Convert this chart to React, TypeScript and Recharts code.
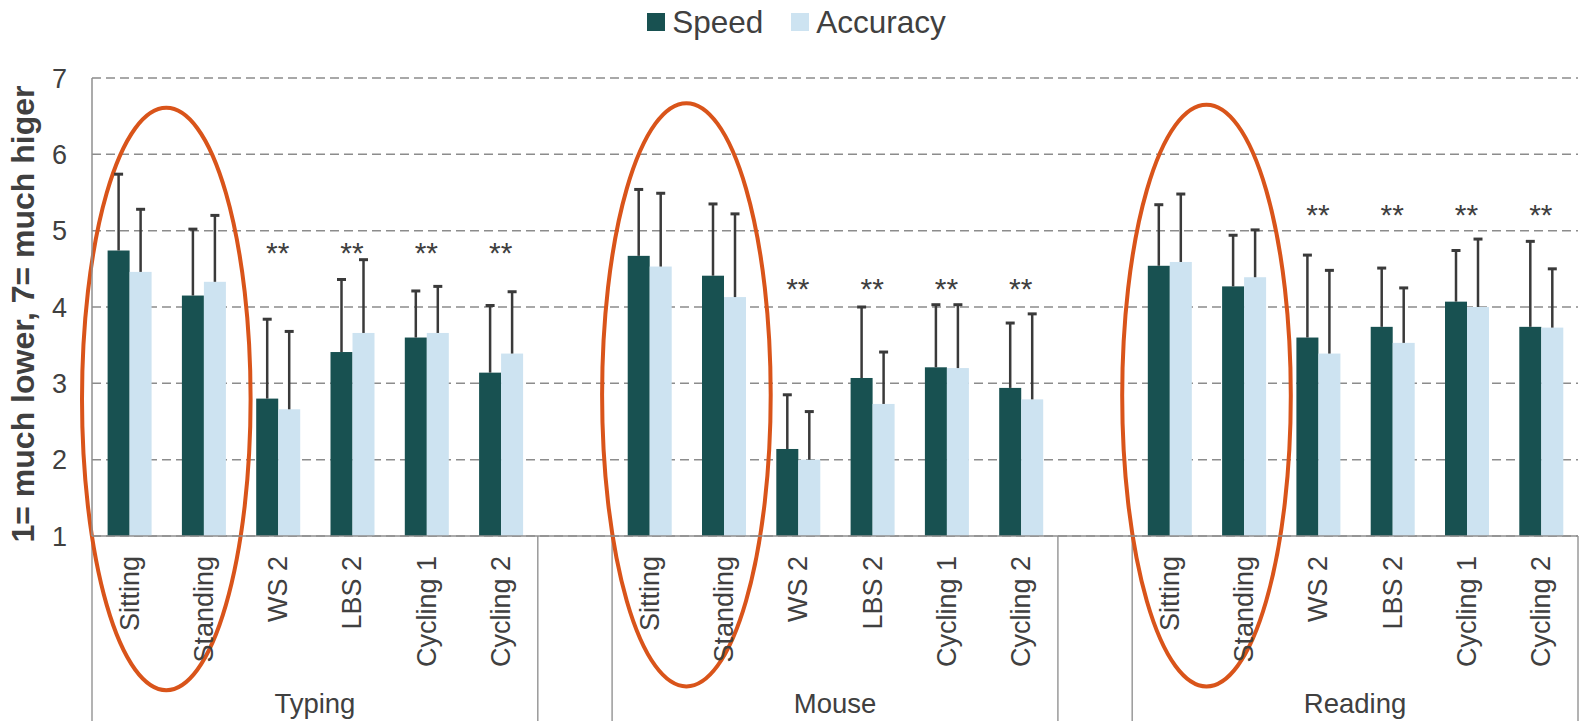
import React from 'react';
import {
  ComposedChart,
  Bar,
  Line,
  XAxis,
  YAxis,
  CartesianGrid,
  Legend,
  ReferenceArea,
  LabelList,
} from 'recharts';

// ---------- data ----------
const groups = ['Typing', 'Mouse', 'Reading'];
const conditions = ['Sitting', 'Standing', 'WS 2', 'LBS 2', 'Cycling 1', 'Cycling 2'];
const seriesNames = ['Speed', 'Accuracy'];

const typingSpeed = [4.74, 4.15, 2.8, 3.41, 3.6, 3.14];
const typingSpeedSD = [1.0, 0.87, 1.04, 0.95, 0.61, 0.88];
const typingAccuracy = [4.46, 4.33, 2.66, 3.66, 3.66, 3.39];
const typingAccuracySD = [0.82, 0.87, 1.02, 0.96, 0.61, 0.81];

const mouseSpeed = [4.67, 4.41, 2.14, 3.07, 3.21, 2.94];
const mouseSpeedSD = [0.87, 0.94, 0.71, 0.93, 0.82, 0.85];
const mouseAccuracy = [4.53, 4.13, 2.0, 2.73, 3.2, 2.79];
const mouseAccuracySD = [0.96, 1.09, 0.63, 0.68, 0.83, 1.12];

const readingSpeed = [4.54, 4.27, 3.6, 3.74, 4.07, 3.74];
const readingSpeedSD = [0.8, 0.67, 1.08, 0.77, 0.67, 1.12];
const readingAccuracy = [4.59, 4.39, 3.39, 3.53, 4.0, 3.73];
const readingAccuracySD = [0.89, 0.62, 1.09, 0.72, 0.89, 0.77];

const significance = ['', '', '**', '**', '**', '**'];
const starLevels = [4.79, 4.32, 5.28];

const ellipseTop = [6.61, 6.67, 6.65];
const ellipseBottom = [-1.02, -0.97, -0.97];

const yTicks = [1, 2, 3, 4, 5, 6, 7];
const Y_MIN = 1;
const Y_MAX = 7;

const speedByGroup = [typingSpeed, mouseSpeed, readingSpeed];
const speedSDByGroup = [typingSpeedSD, mouseSpeedSD, readingSpeedSD];
const accByGroup = [typingAccuracy, mouseAccuracy, readingAccuracy];
const accSDByGroup = [typingAccuracySD, mouseAccuracySD, readingAccuracySD];

type Row = {
  key: string;
  label: string;
  speed: number | null;
  speedSD: number | null;
  accuracy: number | null;
  accuracySD: number | null;
  star: number | null;
  sig: string;
};

const rows: Row[] = [];
groups.forEach((g, gi) => {
  conditions.forEach((c, ci) => {
    rows.push({
      key: `${g}|${c}`,
      label: c,
      speed: speedByGroup[gi][ci],
      speedSD: speedSDByGroup[gi][ci],
      accuracy: accByGroup[gi][ci],
      accuracySD: accSDByGroup[gi][ci],
      star: significance[ci] ? starLevels[gi] : null,
      sig: significance[ci],
    });
  });
  if (gi < groups.length - 1) {
    rows.push({
      key: `gap${gi}`,
      label: '',
      speed: null,
      speedSD: null,
      accuracy: null,
      accuracySD: null,
      star: null,
      sig: '',
    });
  }
});

// ---------- styles ----------
const FONT = '"Liberation Sans", Arial, Helvetica, sans-serif';
const TEXT = '#404040';
const SPEED_COLOR = '#185151';
const ACC_COLOR = '#cde3f1';
const AXIS_COLOR = '#8f8f8f';
const DIVIDER_COLOR = '#9a9a9a';
const ERR_COLOR = '#3a3a3a';
const ELLIPSE_COLOR = '#d9541a';
const X_AXIS_H = 185;

const makeBarShape = (valueKey: 'speed' | 'accuracy', sdKey: 'speedSD' | 'accuracySD') =>
  (props: any) => {
    const { x, y, width, height, fill, payload } = props;
    const v = payload ? payload[valueKey] : null;
    if (v == null || !isFinite(height) || height <= 0) return null;
    const pxPerUnit = height / (v - Y_MIN);
    const errPx = (payload[sdKey] || 0) * pxPerUnit;
    const cx = x + width / 2;
    const top = y - errPx;
    return (
      <g>
        <rect x={x} y={y} width={width} height={height} fill={fill} />
        <line x1={cx} y1={y} x2={cx} y2={top} stroke={ERR_COLOR} strokeWidth={2.5} />
        <line x1={cx - 4.5} y1={top} x2={cx + 4.5} y2={top} stroke={ERR_COLOR} strokeWidth={3} />
      </g>
    );
  };

const labelByKey: Record<string, string> = {};
rows.forEach((r) => (labelByKey[r.key] = r.label));

const CategoryTick = (props: any) => {
  const { x, y, payload } = props;
  const label = labelByKey[payload?.value];
  if (!label) return null;
  const ty = y + 20;
  return (
    <text
      x={x}
      y={ty}
      transform={`rotate(-90 ${x} ${ty})`}
      textAnchor="end"
      dy="0.35em"
      fontSize={27}
      fontFamily={FONT}
      fill={TEXT}
    >
      {label}
    </text>
  );
};

const makeGroupFrame = (name: string) => (props: any) => {
  const { x, y, width, height } = props;
  const bottom = y + height;
  return (
    <g>
      <line x1={x} y1={bottom} x2={x} y2={bottom + X_AXIS_H} stroke={DIVIDER_COLOR} strokeWidth={1.5} />
      <line
        x1={x + width}
        y1={bottom}
        x2={x + width}
        y2={bottom + X_AXIS_H}
        stroke={DIVIDER_COLOR}
        strokeWidth={1.5}
      />
      <text
        x={x + width / 2}
        y={bottom + 177}
        textAnchor="middle"
        fontSize={27.5}
        fontFamily={FONT}
        fill={TEXT}
      >
        {name}
      </text>
    </g>
  );
};

const EllipseShape = (props: any) => {
  const { x, y, width, height } = props;
  return (
    <ellipse
      cx={x + width / 2}
      cy={y + height / 2}
      rx={width / 2 + 10}
      ry={height / 2}
      fill="none"
      stroke={ELLIPSE_COLOR}
      strokeWidth={4}
    />
  );
};

const StarLabel = (props: any) => {
  const { x, y, value } = props;
  if (!value || y == null || x == null) return null;
  return (
    <text
      x={x}
      y={y + 16}
      textAnchor="middle"
      fontSize={30}
      fontFamily={FONT}
      fill={TEXT}
    >
      {value}
    </text>
  );
};

const YLabel = (props: any) => {
  const vb = props.viewBox || { x: 0, y: 78, width: 92, height: 458 };
  const lx = vb.x + 34;
  const ly = vb.y + vb.height / 2 + 7;
  return (
    <text
      x={lx}
      y={ly}
      transform={`rotate(-90 ${lx} ${ly})`}
      textAnchor="middle"
      fontSize={32}
      fontWeight="bold"
      fontFamily={FONT}
      fill={TEXT}
    >
      1= much lower, 7= much higer
    </text>
  );
};

const LegendContent = (props: any) => {
  const items = (props.payload || [])
    .filter((p: any) => p.type !== 'none' && seriesNames.includes(p.value))
    .sort((a: any, b: any) => seriesNames.indexOf(a.value) - seriesNames.indexOf(b.value));
  return (
    <div
      style={{
        height: 44,
        display: 'flex',
        justifyContent: 'center',
        alignItems: 'center',
        paddingLeft: 12,
        fontFamily: FONT,
      }}
    >
      {items.map((p: any, i: number) => (
        <div
          key={i}
          style={{ display: 'flex', alignItems: 'center', marginRight: i < items.length - 1 ? 28 : 0 }}
        >
          <div style={{ width: 18, height: 18, background: p.color, marginRight: 7 }} />
          <span style={{ fontSize: 31.5, color: TEXT, lineHeight: '44px' }}>{p.value}</span>
        </div>
      ))}
    </div>
  );
};

export default function App() {
  return (
    <div style={{ position: 'absolute', left: 0, top: 0, width: 1581, height: 721, background: '#fff' }}>
      <ComposedChart
        width={1581}
        height={721}
        data={rows}
        margin={{ top: 34, right: 3, left: 0, bottom: 0 }}
        barCategoryGap="21%"
        barGap={0}
        style={{ fontFamily: FONT }}
      >
        <CartesianGrid vertical={false} strokeDasharray="9 5" stroke="#8c8c8c" strokeWidth={1.5} />
        <XAxis
          dataKey="key"
          interval={0}
          tickLine={false}
          tickSize={0}
          tickMargin={0}
          height={X_AXIS_H}
          axisLine={{ stroke: AXIS_COLOR, strokeWidth: 1.5 }}
          tick={CategoryTick}
        />
        <YAxis
          domain={[Y_MIN, Y_MAX]}
          ticks={yTicks}
          allowDataOverflow
          width={92}
          tickLine={false}
          tickSize={0}
          tickMargin={25}
          axisLine={{ stroke: AXIS_COLOR, strokeWidth: 1.5 }}
          tick={{ fontSize: 27, fill: TEXT, fontFamily: FONT }}
          label={YLabel}
        />
        <Legend
          verticalAlign="top"
          align="center"
          content={LegendContent}
          wrapperStyle={{ top: 0, left: 0, width: 1581 }}
        />
        <Bar
          dataKey="speed"
          name="Speed"
          fill={SPEED_COLOR}
          isAnimationActive={false}
          shape={makeBarShape('speed', 'speedSD')}
        />
        <Bar
          dataKey="accuracy"
          name="Accuracy"
          fill={ACC_COLOR}
          isAnimationActive={false}
          shape={makeBarShape('accuracy', 'accuracySD')}
        />
        <Line
          dataKey="star"
          stroke="none"
          dot={false}
          activeDot={false}
          legendType="none"
          isAnimationActive={false}
        >
          <LabelList dataKey="sig" content={StarLabel} />
        </Line>
        {groups.map((g) => (
          <ReferenceArea
            key={`frame-${g}`}
            x1={`${g}|${conditions[0]}`}
            x2={`${g}|${conditions[conditions.length - 1]}`}
            ifOverflow="visible"
            shape={makeGroupFrame(g)}
          />
        ))}
        {groups.map((g, gi) => (
          <ReferenceArea
            key={`ellipse-${g}`}
            x1={`${g}|${conditions[0]}`}
            x2={`${g}|${conditions[1]}`}
            y1={ellipseBottom[gi]}
            y2={ellipseTop[gi]}
            ifOverflow="visible"
            shape={EllipseShape}
          />
        ))}
      </ComposedChart>
    </div>
  );
}
